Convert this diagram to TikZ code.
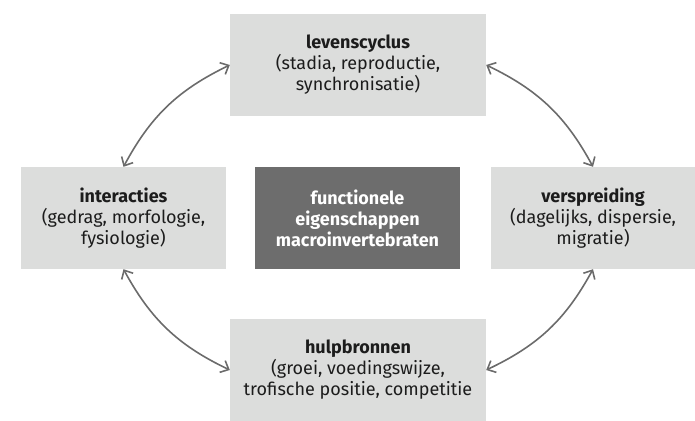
\documentclass[tikz,border=0pt]{standalone}
\usepackage{fontspec}
\setmainfont{Fira Sans}
\usetikzlibrary{arrows.meta}
\definecolor{boxlight}{HTML}{DCDDDC}
\definecolor{boxdark}{HTML}{6D6D6D}
\definecolor{linkgray}{HTML}{6B6B6B}
\definecolor{textdark}{HTML}{1C1C1C}
\begin{document}
\begin{tikzpicture}[x=1pt,y=1pt,
  topic/.style={fill=boxlight, text=textdark, align=center, inner sep=0pt,
    minimum width=205pt, minimum height=102pt,
    font=\fontsize{18}{21}\selectfont},
  core/.style={fill=boxdark, text=white, align=center, inner sep=0pt,
    minimum width=205pt, minimum height=102pt,
    font=\fontsize{18}{21}\selectfont\bfseries},
  link/.style={draw=linkgray, line width=1.6pt, bend left=18,
    {Straight Barb[length=7pt,width=13pt]}-{Straight Barb[length=7pt,width=13pt]}}
]
\useasboundingbox (0,0) rectangle (695,420);

\node[topic, minimum width=256pt] (cycle) at (358,355)
  {\textbf{levenscyclus}\\(stadia, reproductie,\\synchronisatie)};
\node[topic] (inter) at (123.5,202)
  {\textbf{interacties}\\(gedrag, morfologie,\\fysiologie)};
\node[core] (centre) at (357.5,202)
  {functionele\\eigenschappen\\macroinvertebraten};
\node[topic, minimum width=204pt] (spread) at (593,202)
  {\textbf{verspreiding}\\(dagelijks, dispersie,\\migratie)};
\node[topic, minimum width=256pt] (res) at (358,50)
  {\textbf{hulpbronnen}\\(groei, voedingswijze,\\trofische positie, competitie};

\draw[link] (inter.north) to (cycle.west);
\draw[link] (cycle.east) to (spread.north);
\draw[link] (spread.south) to (res.east);
\draw[link] (res.west) to (inter.south);
\end{tikzpicture}
\end{document}
